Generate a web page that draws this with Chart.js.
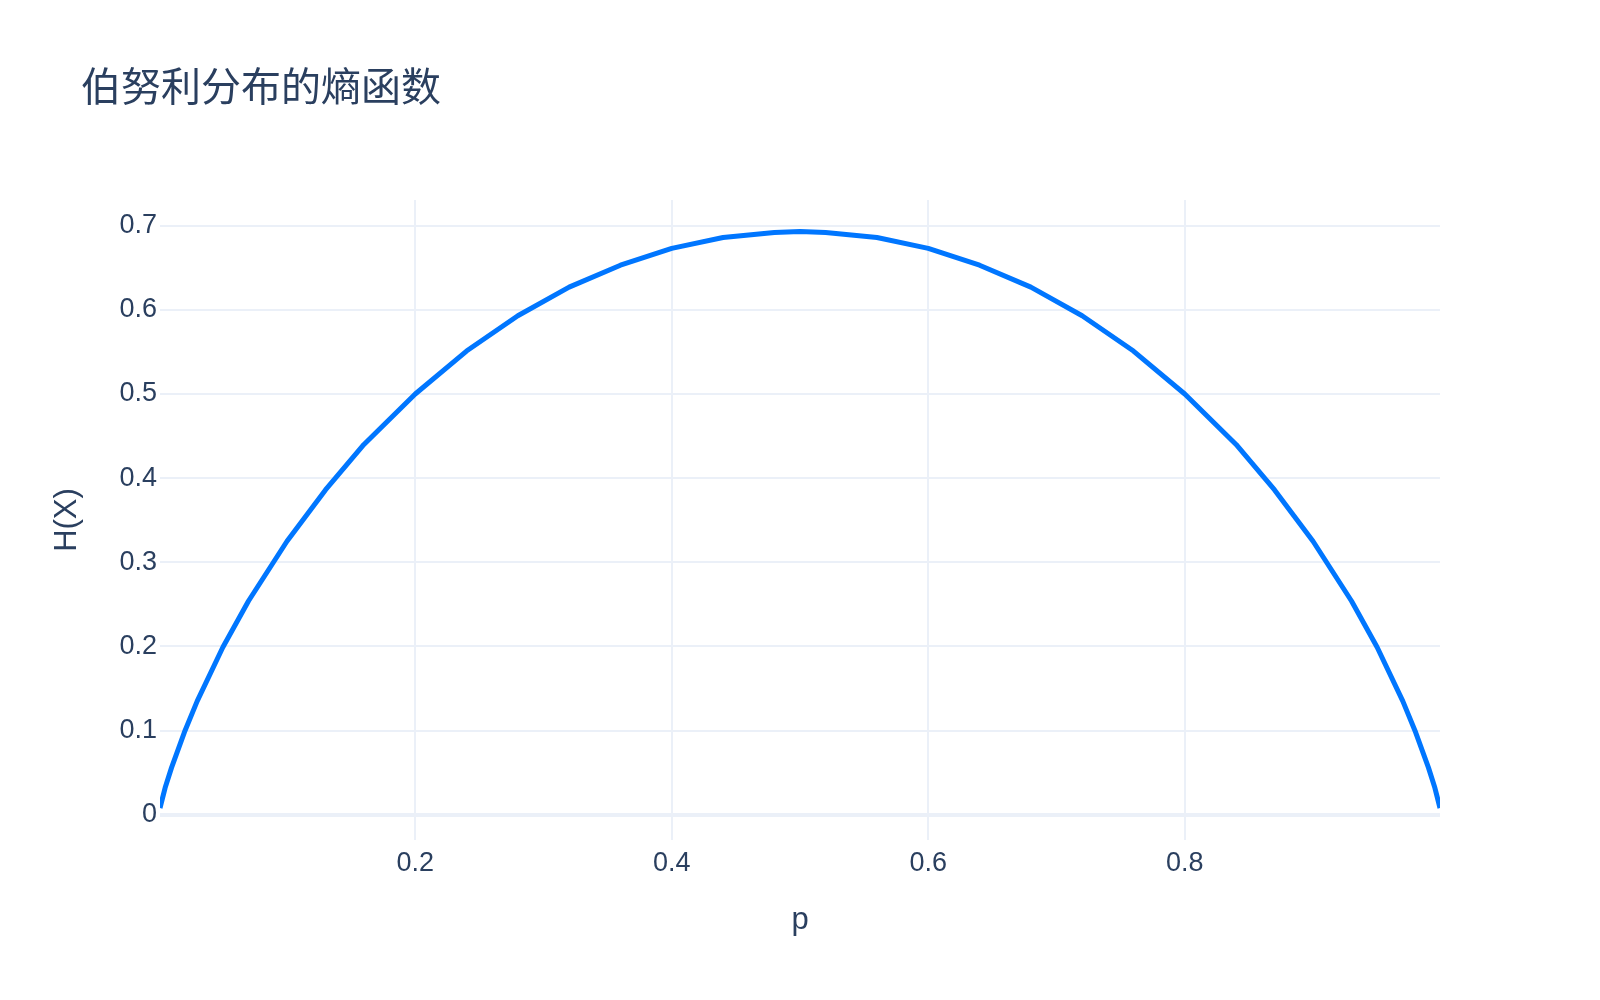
<!DOCTYPE html>
<html>
<head>
<meta charset="utf-8">
<script src="https://cdn.jsdelivr.net/npm/chart.js@4.4.1/dist/chart.umd.min.js"></script>
<style>
  body{ margin:0; background:#fff; }
  #wrap{ width:1600px; height:1000px; }
</style>
</head>
<body>
<div id="wrap"><canvas id="myChart" width="1600" height="1000"></canvas></div>
<script>
// values
const pValues = [0.001, 0.005, 0.01, 0.02, 0.03, 0.05, 0.07, 0.1, 0.13, 0.16, 0.2, 0.24, 0.28, 0.32, 0.36, 0.4, 0.44, 0.48, 0.5,
                 0.52, 0.56, 0.6, 0.64, 0.68, 0.72, 0.76, 0.8, 0.84, 0.87, 0.9, 0.93, 0.95, 0.97, 0.98, 0.99, 0.995, 0.999];
const entropy = [0.008, 0.032, 0.056, 0.098, 0.135, 0.199, 0.254, 0.325, 0.386, 0.440, 0.500, 0.551, 0.593, 0.627, 0.653, 0.673, 0.686, 0.692, 0.693,
                 0.692, 0.686, 0.673, 0.653, 0.627, 0.593, 0.551, 0.500, 0.440, 0.386, 0.325, 0.254, 0.199, 0.135, 0.098, 0.056, 0.032, 0.008];
const titleText = '伯努利分布的熵函数';
const xTitle = 'p';
const yTitle = 'H(X)';

const textColor = '#2a3f5f';
const gridColor = '#ebf0f8';

const points = pValues.map((p, i) => ({x: p, y: entropy[i]}));

// draws the chart title at the top left
const titlePlugin = {
  id: 'topTitle',
  afterDraw(chart){
    const c = chart.ctx;
    c.save();
    c.fillStyle = textColor;
    c.font = '40px "Noto Sans CJK SC", sans-serif';
    c.textAlign = 'left';
    c.textBaseline = 'middle';
    c.fillText(titleText, 81, 86);
    c.restore();
  }
};

const ctx = document.getElementById('myChart').getContext('2d');
const myChart = new Chart(ctx, {
  type: 'line',
  data: {
    datasets: [{
      data: points,
      borderColor: 'rgb(0,118,255)',
      borderWidth: 5,
      borderJoinStyle: 'round',
      pointRadius: 0,
      tension: 0,
      fill: false
    }]
  },
  options: {
    responsive: false,
    devicePixelRatio: 1,
    animation: false,
    layout: { padding: { left: 40, right: 160, top: 200, bottom: 0 } },
    plugins: { legend: { display: false }, tooltip: { enabled: false }, title: { display: false } },
    scales: {
      x: {
        type: 'linear',
        min: 0.001,
        max: 0.999,
        border: { display: false },
        grid: { color: gridColor, lineWidth: 2, drawTicks: false },
        ticks: { stepSize: 0.2, includeBounds: false, padding: 7, color: textColor,
                 font: { family: '"Liberation Sans", Arial, sans-serif', size: 27 } },
        title: { display: true, text: xTitle, color: textColor, padding: { top: 0, bottom: 61 },
                 font: { family: '"Liberation Sans", Arial, sans-serif', size: 31 } },
        afterFit(scale){ scale.height = 160; }
      },
      y: {
        min: -0.03,
        max: 0.7305,
        border: { display: false },
        grid: { color: gridColor, lineWidth: c => (c.tick && c.tick.value === 0 ? 4 : 2), drawTicks: false },
        ticks: { stepSize: 0.1, includeBounds: false, padding: 3, color: textColor,
                 font: { family: '"Liberation Sans", Arial, sans-serif', size: 27 } },
        title: { display: true, text: yTitle, color: textColor, padding: { top: 9, bottom: 0 },
                 font: { family: '"Liberation Sans", Arial, sans-serif', size: 31 } },
        afterFit(scale){ scale.width = 120; }
      }
    }
  },
  plugins: [titlePlugin]
});
</script>
</body>
</html>
